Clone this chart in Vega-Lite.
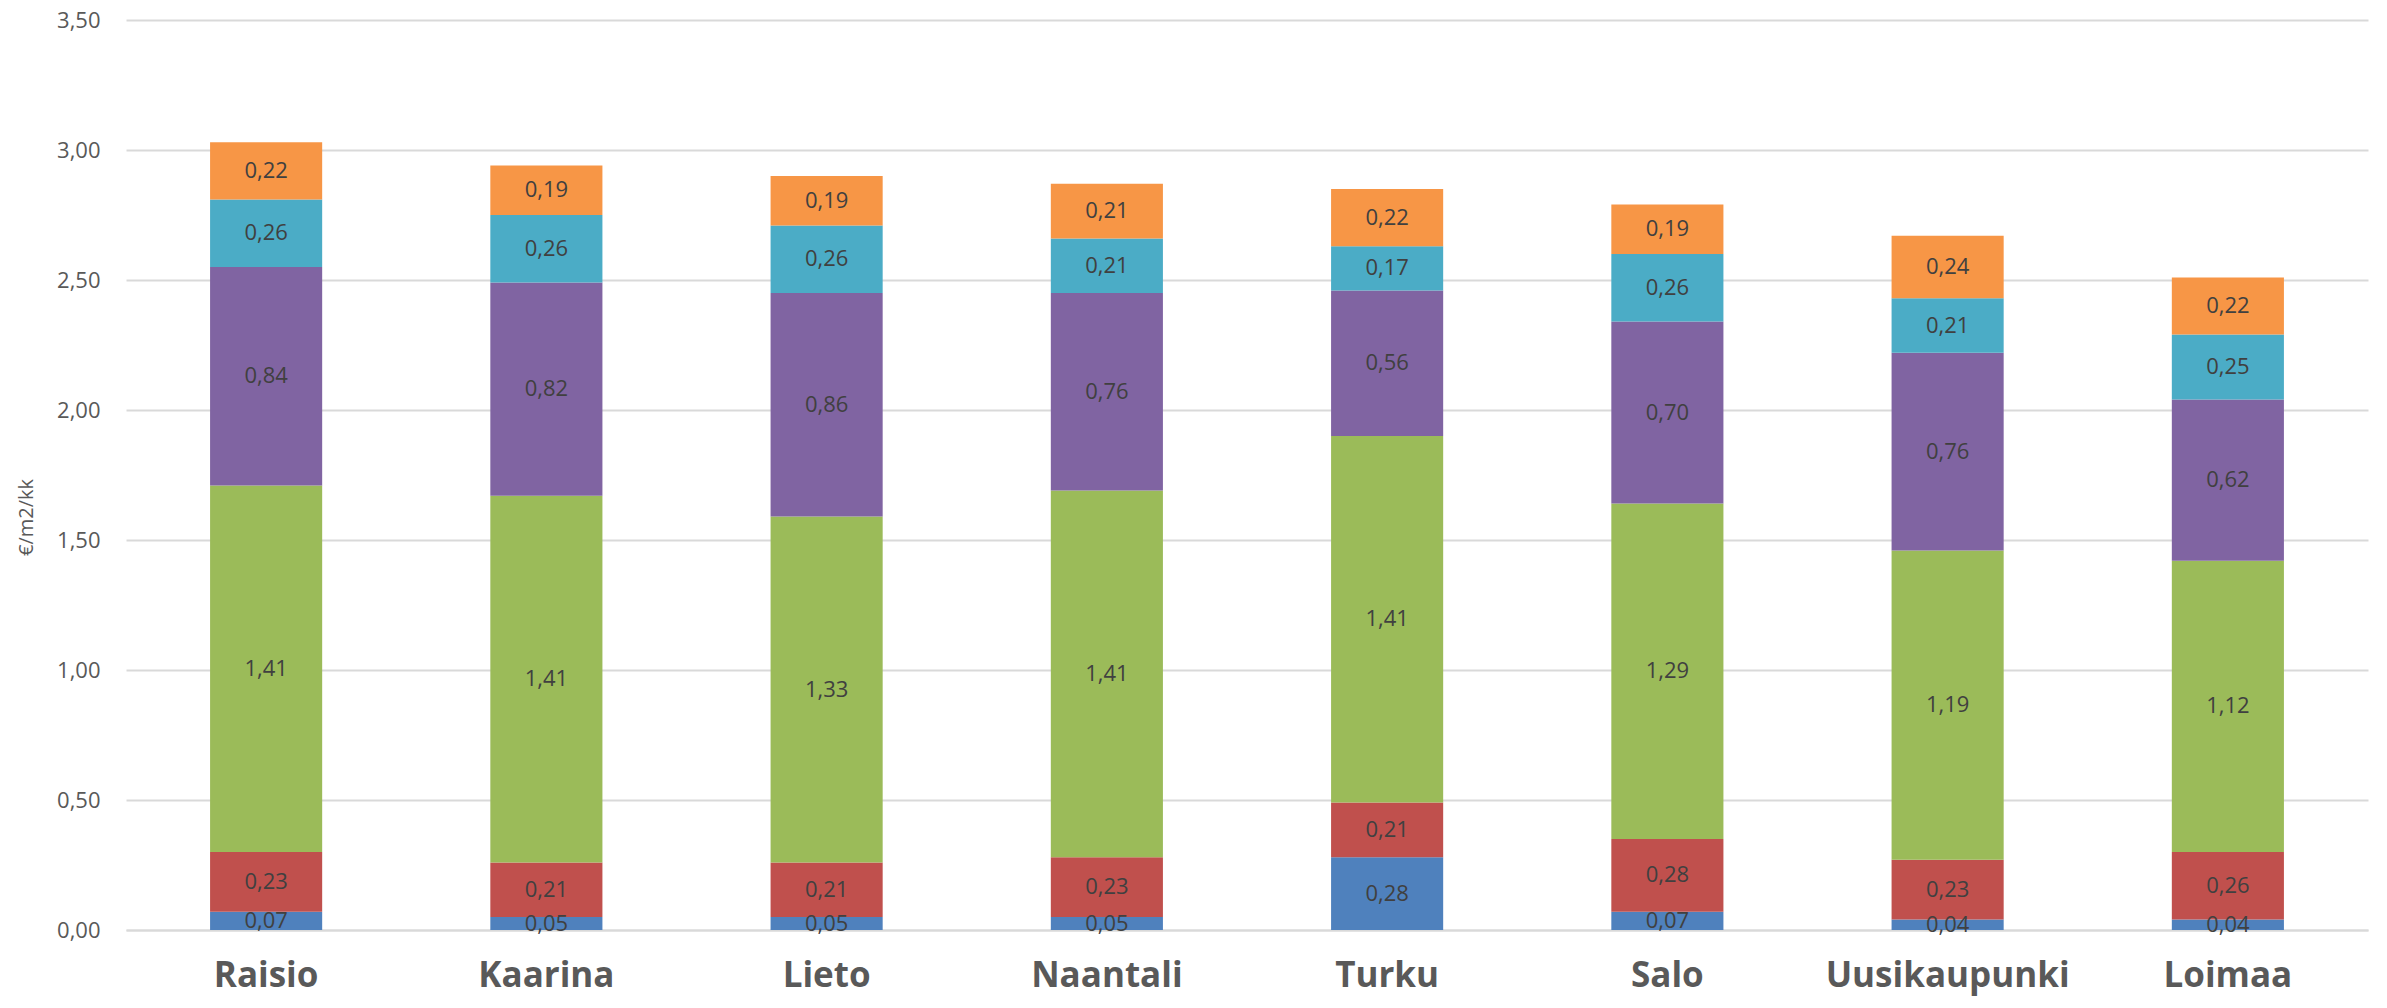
{
  "$schema": "https://vega.github.io/schema/vega-lite/v6.json",
  "width": 2242,
  "height": 910,
  "autosize": {"type": "none"},
  "padding": {"left": 126, "top": 20, "right": 19, "bottom": 78},
  "background": "white",
  "config": {
    "locale": {"number": {"decimal": ",", "thousands": " ", "grouping": [3], "currency": ["", " €"]}},
    "font": "Open Sans",
    "view": {"stroke": null}
  },
  "data": {
    "values": [
      {"kunta": "Raisio", "sarja": "S1", "j": 1, "v": 0.07},
      {"kunta": "Raisio", "sarja": "S2", "j": 2, "v": 0.23},
      {"kunta": "Raisio", "sarja": "S3", "j": 3, "v": 1.41},
      {"kunta": "Raisio", "sarja": "S4", "j": 4, "v": 0.84},
      {"kunta": "Raisio", "sarja": "S5", "j": 5, "v": 0.26},
      {"kunta": "Raisio", "sarja": "S6", "j": 6, "v": 0.22},
      {"kunta": "Kaarina", "sarja": "S1", "j": 1, "v": 0.05},
      {"kunta": "Kaarina", "sarja": "S2", "j": 2, "v": 0.21},
      {"kunta": "Kaarina", "sarja": "S3", "j": 3, "v": 1.41},
      {"kunta": "Kaarina", "sarja": "S4", "j": 4, "v": 0.82},
      {"kunta": "Kaarina", "sarja": "S5", "j": 5, "v": 0.26},
      {"kunta": "Kaarina", "sarja": "S6", "j": 6, "v": 0.19},
      {"kunta": "Lieto", "sarja": "S1", "j": 1, "v": 0.05},
      {"kunta": "Lieto", "sarja": "S2", "j": 2, "v": 0.21},
      {"kunta": "Lieto", "sarja": "S3", "j": 3, "v": 1.33},
      {"kunta": "Lieto", "sarja": "S4", "j": 4, "v": 0.86},
      {"kunta": "Lieto", "sarja": "S5", "j": 5, "v": 0.26},
      {"kunta": "Lieto", "sarja": "S6", "j": 6, "v": 0.19},
      {"kunta": "Naantali", "sarja": "S1", "j": 1, "v": 0.05},
      {"kunta": "Naantali", "sarja": "S2", "j": 2, "v": 0.23},
      {"kunta": "Naantali", "sarja": "S3", "j": 3, "v": 1.41},
      {"kunta": "Naantali", "sarja": "S4", "j": 4, "v": 0.76},
      {"kunta": "Naantali", "sarja": "S5", "j": 5, "v": 0.21},
      {"kunta": "Naantali", "sarja": "S6", "j": 6, "v": 0.21},
      {"kunta": "Turku", "sarja": "S1", "j": 1, "v": 0.28},
      {"kunta": "Turku", "sarja": "S2", "j": 2, "v": 0.21},
      {"kunta": "Turku", "sarja": "S3", "j": 3, "v": 1.41},
      {"kunta": "Turku", "sarja": "S4", "j": 4, "v": 0.56},
      {"kunta": "Turku", "sarja": "S5", "j": 5, "v": 0.17},
      {"kunta": "Turku", "sarja": "S6", "j": 6, "v": 0.22},
      {"kunta": "Salo", "sarja": "S1", "j": 1, "v": 0.07},
      {"kunta": "Salo", "sarja": "S2", "j": 2, "v": 0.28},
      {"kunta": "Salo", "sarja": "S3", "j": 3, "v": 1.29},
      {"kunta": "Salo", "sarja": "S4", "j": 4, "v": 0.70},
      {"kunta": "Salo", "sarja": "S5", "j": 5, "v": 0.26},
      {"kunta": "Salo", "sarja": "S6", "j": 6, "v": 0.19},
      {"kunta": "Uusikaupunki", "sarja": "S1", "j": 1, "v": 0.04},
      {"kunta": "Uusikaupunki", "sarja": "S2", "j": 2, "v": 0.23},
      {"kunta": "Uusikaupunki", "sarja": "S3", "j": 3, "v": 1.19},
      {"kunta": "Uusikaupunki", "sarja": "S4", "j": 4, "v": 0.76},
      {"kunta": "Uusikaupunki", "sarja": "S5", "j": 5, "v": 0.21},
      {"kunta": "Uusikaupunki", "sarja": "S6", "j": 6, "v": 0.24},
      {"kunta": "Loimaa", "sarja": "S1", "j": 1, "v": 0.04},
      {"kunta": "Loimaa", "sarja": "S2", "j": 2, "v": 0.26},
      {"kunta": "Loimaa", "sarja": "S3", "j": 3, "v": 1.12},
      {"kunta": "Loimaa", "sarja": "S4", "j": 4, "v": 0.62},
      {"kunta": "Loimaa", "sarja": "S5", "j": 5, "v": 0.25},
      {"kunta": "Loimaa", "sarja": "S6", "j": 6, "v": 0.22}
    ]
  },
  "encoding": {
    "x": {
      "field": "kunta",
      "type": "nominal",
      "sort": null,
      "scale": {"paddingInner": 0.6, "paddingOuter": 0.3},
      "axis": {
        "title": null,
        "labelAngle": 0,
        "labelLimit": 0,
        "labelFont": "Open Sans",
        "labelFontSize": 35,
        "labelFontWeight": "bold",
        "labelColor": "#595959",
        "labelPadding": 28,
        "ticks": false,
        "domainColor": "#d9d9d9",
        "domainWidth": 2
      }
    },
    "y": {
      "field": "v",
      "type": "quantitative",
      "stack": "zero",
      "scale": {"domain": [0, 3.5], "nice": false},
      "axis": {
        "title": "€/m2/kk",
        "titleFont": "Open Sans",
        "titleFontSize": 20,
        "titleFontWeight": "normal",
        "titleColor": "#595959",
        "titleAngle": -90,
        "titleX": -100,
        "titleY": 497,
        "titleAlign": "center",
        "titleBaseline": "middle",
        "values": [0, 0.5, 1, 1.5, 2, 2.5, 3, 3.5],
        "format": ".2f",
        "labelFont": "Open Sans",
        "labelFontSize": 22,
        "labelColor": "#595959",
        "labelPadding": 26,
        "ticks": false,
        "domain": false,
        "gridColor": "#d9d9d9",
        "gridWidth": 2
      }
    },
    "order": {"field": "j", "type": "quantitative"}
  },
  "layer": [
    {
      "mark": {"type": "bar"},
      "encoding": {
        "color": {
          "field": "sarja",
          "type": "nominal",
          "scale": {
            "domain": ["S1", "S2", "S3", "S4", "S5", "S6"],
            "range": ["#4F81BD", "#C0504D", "#9BBB59", "#8064A2", "#4BACC6", "#F79646"]
          },
          "legend": null
        }
      }
    },
    {
      "mark": {"type": "text", "font": "Open Sans", "fontSize": 22, "color": "#404040", "baseline": "middle", "align": "center"},
      "encoding": {
        "y": {"field": "v", "type": "quantitative", "stack": "zero", "bandPosition": 0.5},
        "text": {"field": "v", "type": "quantitative", "format": ".2f"}
      }
    }
  ]
}
